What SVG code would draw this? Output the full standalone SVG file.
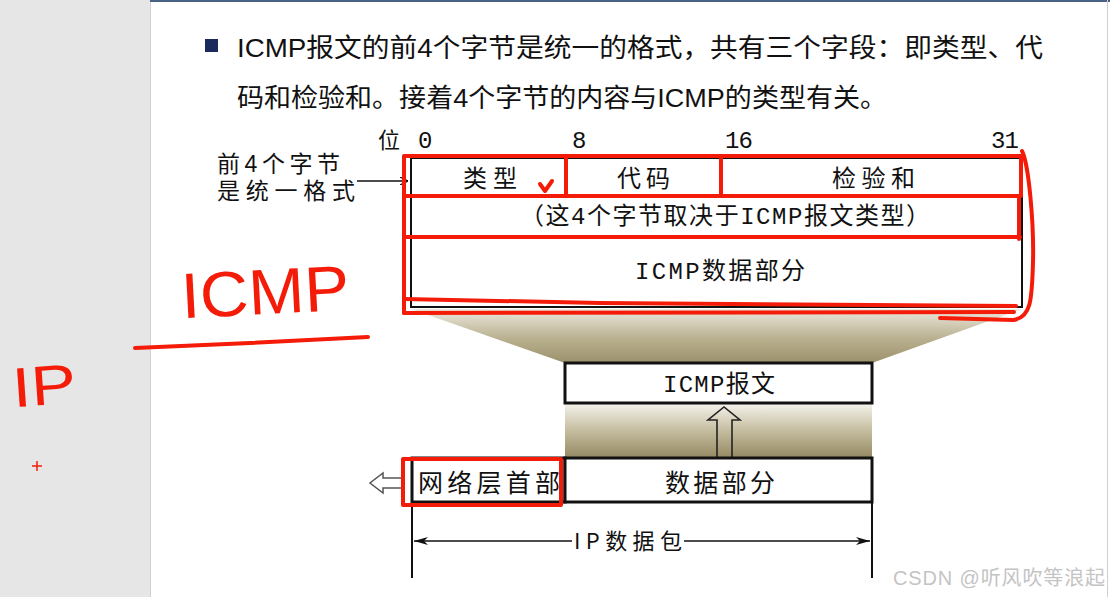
<svg xmlns="http://www.w3.org/2000/svg" width="1110" height="597" viewBox="0 0 1110 597">
<style>
.hdr{font-family:"Liberation Sans","Noto Sans CJK SC",sans-serif;font-size:26px;fill:#111}
.tb{font-family:"Liberation Mono","Noto Sans CJK SC",monospace;font-size:24px;fill:#111}
.cj{font-family:"Noto Sans CJK SC","Liberation Sans",sans-serif;fill:#111}
.lbl{font-family:"Liberation Sans","Noto Sans CJK SC",sans-serif;font-size:23px;fill:#111}
.box{fill:#fff;stroke:#111;stroke-width:3}
.thin{fill:none;stroke:#111;stroke-width:2}
.red{fill:none;stroke:#f41c08;stroke-width:4;stroke-linecap:round;stroke-linejoin:round}
.hand{font-family:"Liberation Sans",sans-serif;fill:#f41c08}
</style>
<defs>
<linearGradient id="g1" x1="0" y1="0" x2="0" y2="1">
<stop offset="0" stop-color="#ece9df"/>
<stop offset="0.55" stop-color="#b9b08f"/>
<stop offset="1" stop-color="#9c916c"/>
</linearGradient>
<linearGradient id="g2" x1="0" y1="0" x2="0" y2="1">
<stop offset="0" stop-color="#f4f2ea"/>
<stop offset="0.5" stop-color="#c4bc9e"/>
<stop offset="1" stop-color="#948962"/>
</linearGradient>
<marker id="ah" viewBox="0 0 14 8" refX="14" refY="4" markerWidth="14" markerHeight="8" markerUnits="userSpaceOnUse" orient="auto-start-reverse">
<path d="M0,0 L14,4 L0,8 L4,4 Z" fill="#111"/>
</marker>
<marker id="ah2" viewBox="0 0 8 8" refX="8" refY="4" markerWidth="8" markerHeight="8" markerUnits="userSpaceOnUse" orient="auto">
<path d="M0,0 L8,4 L0,8" fill="none" stroke="#111" stroke-width="1.2"/>
</marker>
</defs>

<rect width="1110" height="597" fill="#fff"/>
<rect x="0" y="0" width="150" height="597" fill="#e6e6e6"/>
<line x1="150.5" y1="0" x2="150.5" y2="597" stroke="#d2d2d2"/>
<rect x="150" y="0" width="960" height="2" fill="#4a6283"/>
<line x1="1107.5" y1="0" x2="1107.5" y2="597" stroke="#cfcfcf"/>

<g id="header">
<rect x="205" y="39" width="13" height="13" fill="#1b2a5c"/>
<text class="hdr" x="237" y="57" textLength="806" lengthAdjust="spacingAndGlyphs">ICMP报文的前4个字节是统一的格式，共有三个字段：即类型、代</text>
<text class="hdr" x="237" y="107" textLength="650" lengthAdjust="spacingAndGlyphs">码和检验和。接着4个字节的内容与ICMP的类型有关。</text>
</g>

<g id="connectors">
<polygon points="411,309 1022,309 872,363 565,363" fill="url(#g1)"/>
<rect x="565" y="404" width="307" height="54" fill="url(#g2)"/>
<line x1="357" y1="181" x2="408" y2="181" stroke="#111" stroke-width="1.3" marker-end="url(#ah2)"/>
<path d="M717,458 V420 H708 L724,407 L740,420 H732 V458" fill="none" stroke="#222" stroke-width="1.6"/>
<path d="M404,478 H383 V473 L370,483 L383,493 V488 H404" fill="#fff" stroke="#555" stroke-width="1.5"/>
<line x1="412" y1="503" x2="412" y2="578" class="thin"/>
<line x1="872" y1="503" x2="872" y2="578" class="thin"/>
<line x1="414" y1="541" x2="572" y2="541" stroke="#111" stroke-width="1.5" marker-start="url(#ah)"/>
<line x1="684" y1="541" x2="870" y2="541" stroke="#111" stroke-width="1.5" marker-end="url(#ah)"/>
</g>

<g id="bitscale">
<text class="cj" x="378" y="148" font-size="22">位</text>
<text class="tb" x="418" y="148" font-size="21">0</text>
<text class="tb" x="572" y="148" font-size="21">8</text>
<text class="tb" x="725" y="148" font-size="21" textLength="28">16</text>
<text class="tb" x="991" y="148" font-size="21" textLength="28">31</text>
</g>

<g id="label-first4">
<text class="lbl" x="217" y="172" textLength="123">前4个字节</text>
<text class="lbl" x="217" y="199" textLength="138">是统一格式</text>
</g>

<g id="icmp-format">
<rect x="411" y="158" width="611" height="149" class="thin" fill="#fff"/>
<line x1="411" y1="196" x2="1022" y2="196" class="thin"/>
<line x1="411" y1="236" x2="1022" y2="236" class="thin"/>
<line x1="566" y1="158" x2="566" y2="196" class="thin"/>
<line x1="721" y1="158" x2="721" y2="196" class="thin"/>
<text class="tb" x="463" y="187" textLength="54">类型</text>
<text class="tb" x="617" y="187" textLength="53">代码</text>
<text class="tb" x="832" y="187" textLength="83">检验和</text>
<text class="tb" x="520" y="224" textLength="410">（这4个字节取决于ICMP报文类型）</text>
<text class="tb" x="635" y="279" textLength="170">ICMP数据部分</text>
</g>

<g id="icmp-msg">
<rect x="565" y="363" width="307" height="40" class="box"/>
<text class="tb" x="663" y="392" textLength="112">ICMP报文</text>
</g>

<g id="net-header">
<rect x="412" y="458" width="153" height="44" class="box"/>
<text class="cj" x="418" y="492" font-size="25" textLength="142">网络层首部</text>
</g>

<g id="ip-data">
<rect x="565" y="458" width="307" height="44" class="box"/>
<text class="cj" x="665" y="492" font-size="25" textLength="110">数据部分</text>
</g>

<g id="ip-packet-label">
<text class="cj" x="574" y="549" font-size="22" textLength="108">IP数据包</text>
</g>

<g id="annotations">
<rect x="404" y="156" width="617" height="40" class="red"/>
<line x1="566" y1="156" x2="566" y2="196" class="red"/>
<line x1="721" y1="156" x2="721" y2="196" class="red"/>
<line x1="404" y1="237" x2="1020" y2="237" class="red"/>
<line x1="1019" y1="196" x2="1019" y2="239" class="red"/>
<line x1="404" y1="196" x2="404" y2="313" class="red"/>
<path d="M404,313 L1014,312" class="red"/>
<path d="M404,299 L600,303 L1016,306" class="red" stroke-width="3"/>
<path d="M1022,151 C1029,165 1034,225 1033,262 C1032,300 1031,318 1013,320 L940,318" class="red" stroke-width="3.5"/>
<path d="M540,184 L545,191 L552,181" class="red" stroke-width="3"/>
<rect x="403" y="459" width="158" height="46" class="red"/>
<text class="hand" x="181" y="314" font-size="64" textLength="168" lengthAdjust="spacingAndGlyphs" transform="rotate(-3 265 290)">ICMP</text>
<path d="M135,348 L250,343 L368,337" class="red" stroke-width="4"/>
<text class="hand" x="12" y="405" font-size="56" textLength="64" lengthAdjust="spacingAndGlyphs" transform="rotate(-4 44 385)">IP</text>
<path d="M32,466 H42 M37,461 V471" stroke="#f41c08" stroke-width="1.5"/>
</g>

<text x="893" y="585" font-family="Liberation Sans,Noto Sans CJK SC,sans-serif" font-size="20" fill="#c4c4c4" textLength="212">CSDN @听风吹等浪起</text>
</svg>
